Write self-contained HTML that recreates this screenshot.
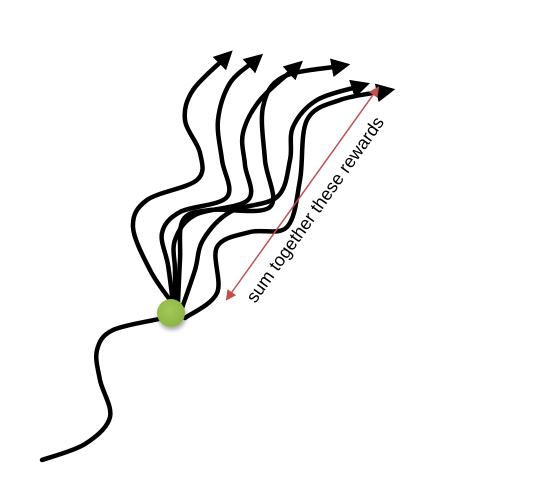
<!DOCTYPE html>
<html><head><meta charset="utf-8"><style>
html,body{margin:0;padding:0;background:#fff;width:535px;height:482px;overflow:hidden}
svg{display:block}
</style></head><body>
<svg id="s" width="535" height="482" viewBox="0 0 535 482">
<defs>
<marker id="ah" viewBox="0 0 10 10" refX="5" refY="5" markerWidth="4.2" markerHeight="4.2" orient="auto" markerUnits="strokeWidth"><path d="M0,0 L10,5 L0,10 z" fill="#000"/></marker>
<marker id="rh" viewBox="0 0 10 10" refX="8" refY="5" markerWidth="7" markerHeight="7" orient="auto-start-reverse" markerUnits="strokeWidth"><path d="M0,0 L10,5 L0,10 z" fill="#c0504d"/></marker>
<radialGradient id="g" cx="0.45" cy="0.4" r="0.6"><stop offset="0" stop-color="#a4c85a"/><stop offset="1" stop-color="#8cb444"/></radialGradient>
<filter id="sh" x="-50%" y="-50%" width="200%" height="200%"><feDropShadow dx="1" dy="3" stdDeviation="2" flood-color="#000" flood-opacity="0.35"/></filter>
</defs>
<g id="paths"></g>
<line x1="227" y1="299" x2="378" y2="88" stroke="#c0504d" stroke-width="1.5" marker-start="url(#rh)" marker-end="url(#rh)"/>
<text x="0" y="0" transform="translate(320,213) rotate(-54.5)" text-anchor="middle" font-family="Liberation Sans, sans-serif" font-size="18" fill="#000">sum together these rewards</text>
<circle cx="171" cy="313" r="14" fill="url(#g)" filter="url(#sh)"/>
</svg>
<script>
const tail=[[42,460],[85,444],[110,417],[100,380],[97,350],[113,330],[163,318],[171,313]];
const rollouts=[
[[170,300],[150,270],[133,227],[147,200],[197,180],[200,153],[185,120],[193,90],[226,57]],
[[173,303],[168,265],[162,233],[180,212],[227,197],[222,160],[218,120],[230,83],[256,60]],
[[175,302],[175,270],[175,240],[195,215],[248,200],[245,165],[243,133],[260,100],[296,67]],
[[178,303],[180,260],[183,220],[210,210],[270,207],[265,160],[263,107],[283,77],[341,66]],
[[182,308],[195,270],[203,240],[230,212],[277,197],[290,160],[293,127],[317,100],[361,86]],
[[185,318],[217,293],[217,247],[250,232],[287,227],[300,180],[307,120],[340,100],[386,91]]
];
function cr(p){let d='M'+p[0][0]+','+p[0][1];for(let i=0;i<p.length-1;i++){const a=p[i-1]||p[i],b=p[i],c=p[i+1],e=p[i+2]||c;
d+=' C'+(b[0]+(c[0]-a[0])/6)+','+(b[1]+(c[1]-a[1])/6)+' '+(c[0]-(e[0]-b[0])/6)+','+(c[1]-(e[1]-b[1])/6)+' '+c[0]+','+c[1];}return d;}
const g=document.getElementById('paths');
function add(p,name,arrow){const el=document.createElementNS('http://www.w3.org/2000/svg','path');
el.setAttribute('d',cr(p));el.setAttribute('fill','none');el.setAttribute('stroke','#000');el.setAttribute('stroke-width','4.5');el.setAttribute('stroke-linecap','round');
if(arrow)el.setAttribute('marker-end','url(#ah)');


g.appendChild(el);}
add(tail,'history-trajectory',false);
rollouts.forEach((r,i)=>add(r,'rollout-'+(i+1),true));
</script>
</body></html>
